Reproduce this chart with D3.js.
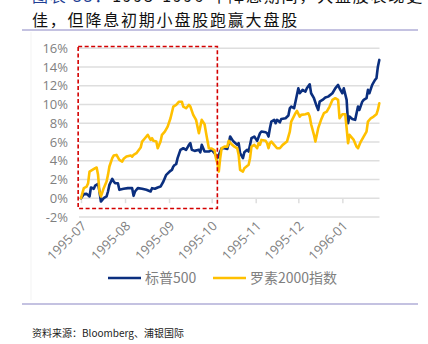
<!DOCTYPE html>
<html>
<head>
<meta charset="utf-8">
<script src="https://cdn.jsdelivr.net/npm/d3@7/dist/d3.min.js"></script>
<style>
  html, body { margin: 0; padding: 0; background: #fff; }
  svg { display: block; }
</style>
</head>
<body>
<svg id="chart" width="428" height="344"></svg>
<script>
// S&P 500 cumulative return (%) since early July 1995
const spDates = [
  "1995-07-01","1995-07-03","1995-07-05","1995-07-07","1995-07-08","1995-07-10","1995-07-11","1995-07-13",
  "1995-07-14","1995-07-15","1995-07-17","1995-07-19","1995-07-20","1995-07-21","1995-07-23","1995-07-24",
  "1995-07-25","1995-07-27","1995-07-28","1995-07-31","1995-08-03","1995-08-06","1995-08-07","1995-08-08",
  "1995-08-10","1995-08-13","1995-08-16","1995-08-19","1995-08-20","1995-08-22","1995-08-24","1995-08-26",
  "1995-08-28","1995-08-30","1995-09-02","1995-09-03","1995-09-04","1995-09-05","1995-09-06","1995-09-07",
  "1995-09-09","1995-09-11","1995-09-13","1995-09-15","1995-09-16","1995-09-17","1995-09-19","1995-09-22",
  "1995-09-23","1995-09-24","1995-09-26","1995-09-29","1995-10-01","1995-10-03","1995-10-05","1995-10-06",
  "1995-10-08","1995-10-10","1995-10-12","1995-10-13","1995-10-14","1995-10-16","1995-10-17","1995-10-19",
  "1995-10-20","1995-10-21","1995-10-23","1995-10-24","1995-10-26","1995-10-27","1995-10-29","1995-10-31",
  "1995-11-02","1995-11-04","1995-11-05","1995-11-08","1995-11-09","1995-11-10","1995-11-11","1995-11-12",
  "1995-11-14","1995-11-15","1995-11-16","1995-11-18","1995-11-19","1995-11-22","1995-11-24","1995-11-25",
  "1995-11-26","1995-11-28","1995-11-29","1995-12-01","1995-12-02","1995-12-04","1995-12-06","1995-12-07",
  "1995-12-09","1995-12-10","1995-12-12","1995-12-14","1995-12-15","1995-12-16","1995-12-18","1995-12-20",
  "1995-12-22","1995-12-25","1995-12-27","1995-12-29","1995-12-30","1996-01-01","1996-01-02","1996-01-04",
  "1996-01-05","1996-01-06","1996-01-08","1996-01-10","1996-01-12","1996-01-13","1996-01-15","1996-01-16",
  "1996-01-18","1996-01-19","1996-01-20","1996-01-22","1996-01-24","1996-01-25","1996-01-26","1996-01-27"
];
const spValues = [
  0.0, 0.43, 0.46, 0.18, 1.14, 1.0, 1.35, 1.53,
  0.71, -0.36, 0.0, 0.18, 0.71, 1.42, 2.06, 1.78,
  1.6, 1.6, 0.89, 1.0, 1.07, 1.07, 0.25, 0.71,
  1.07, 1.0, 0.89, 0.71, 1.07, 1.0, 1.14, 1.24,
  1.78, 2.49, 2.92, 3.02, 3.38, 3.56, 3.63, 4.27,
  5.16, 5.33, 5.16, 5.69, 5.87, 5.16, 5.05, 5.16,
  4.9, 5.69, 4.98, 4.98, 5.16, 4.8, 4.27, 4.62,
  5.33, 5.33, 5.26, 5.87, 6.58, 6.12, 5.97, 5.69,
  5.87, 4.8, 4.27, 4.9, 5.16, 4.98, 6.4, 6.58,
  6.12, 6.93, 7.11, 7.04, 6.93, 6.58, 7.47, 8.18,
  8.36, 8.0, 8.36, 8.1, 8.46, 8.53, 8.82, 9.6,
  9.78, 9.6, 10.3, 11.73, 11.2, 11.56, 11.38, 11.73,
  12.16, 11.2, 10.67, 9.78, 9.42, 10.3, 10.49, 10.74,
  10.84, 11.2, 11.73, 12.09, 11.73, 11.2, 11.73, 10.49,
  8.0, 8.71, 8.46, 8.36, 9.78, 9.42, 10.3, 10.49,
  10.67, 11.56, 11.2, 12.09, 12.62, 12.8, 14.04, 14.76
];

// Russell 2000 cumulative return (%) over the same window
const r2kDates = [
  "1995-07-01","1995-07-03","1995-07-05","1995-07-06","1995-07-07","1995-07-09","1995-07-11","1995-07-12",
  "1995-07-13","1995-07-14","1995-07-15","1995-07-17","1995-07-19","1995-07-20","1995-07-21","1995-07-23",
  "1995-07-24","1995-07-26","1995-07-28","1995-07-30","1995-07-31","1995-08-02","1995-08-05","1995-08-06",
  "1995-08-07","1995-08-09","1995-08-12","1995-08-13","1995-08-15","1995-08-17","1995-08-19","1995-08-20",
  "1995-08-21","1995-08-23","1995-08-24","1995-08-26","1995-08-27","1995-08-29","1995-08-31","1995-09-02",
  "1995-09-04","1995-09-06","1995-09-08","1995-09-10","1995-09-11","1995-09-13","1995-09-15","1995-09-16",
  "1995-09-18","1995-09-20","1995-09-22","1995-09-24","1995-09-26","1995-09-27","1995-09-29","1995-10-01",
  "1995-10-03","1995-10-04","1995-10-05","1995-10-06","1995-10-07","1995-10-08","1995-10-10","1995-10-12",
  "1995-10-13","1995-10-15","1995-10-17","1995-10-19","1995-10-20","1995-10-21","1995-10-23","1995-10-24",
  "1995-10-27","1995-10-28","1995-10-29","1995-10-31","1995-11-02","1995-11-03","1995-11-04","1995-11-05",
  "1995-11-08","1995-11-09","1995-11-10","1995-11-11","1995-11-12","1995-11-14","1995-11-16","1995-11-18",
  "1995-11-20","1995-11-23","1995-11-25","1995-11-26","1995-11-29","1995-11-30","1995-12-02","1995-12-03",
  "1995-12-06","1995-12-08","1995-12-09","1995-12-10","1995-12-12","1995-12-13","1995-12-15","1995-12-17",
  "1995-12-19","1995-12-21","1995-12-23","1995-12-25","1995-12-27","1995-12-29","1995-12-30","1996-01-01",
  "1996-01-03","1996-01-04","1996-01-05","1996-01-06","1996-01-09","1996-01-11","1996-01-12","1996-01-14",
  "1996-01-16","1996-01-18","1996-01-19","1996-01-21","1996-01-23","1996-01-25","1996-01-26","1996-01-27"
];
const r2kValues = [
  0.0, 1.07, 1.24, 1.6, 2.84, 3.02, 3.2, 3.27,
  2.49, 0.71, 0.18, 1.07, 1.78, 2.49, 3.38, 4.27,
  4.55, 4.62, 4.09, 3.91, 4.2, 4.44, 4.55, 4.44,
  4.62, 4.8, 5.4, 6.04, 6.4, 6.76, 6.22, 6.4,
  6.12, 6.04, 5.33, 6.04, 6.76, 7.11, 7.64, 8.53,
  9.78, 9.96, 10.3, 10.3, 9.78, 9.6, 9.96, 9.78,
  8.9, 8.36, 6.93, 8.36, 7.9, 7.0, 5.33, 5.3,
  5.1, 4.27, 3.73, 2.84, 4.27, 5.33, 5.5, 5.5,
  6.12, 5.76, 5.5, 5.33, 4.62, 3.02, 2.84, 3.2,
  3.56, 4.27, 5.5, 5.69, 5.33, 5.87, 5.69, 6.22,
  6.12, 5.87, 5.33, 5.87, 6.04, 5.69, 5.33, 5.33,
  5.69, 6.04, 7.11, 8.18, 9.07, 9.32, 8.71, 8.89,
  8.96, 9.07, 8.71, 7.89, 6.76, 6.04, 7.47, 8.36,
  9.07, 9.24, 9.78, 10.49, 10.67, 10.49, 8.53, 8.96,
  8.96, 7.47, 5.87, 6.76, 6.22, 5.5, 5.33, 6.04,
  6.58, 7.11, 8.18, 8.53, 8.71, 8.96, 9.42, 10.13
];

const seriesNames = ["标普500", "罗素2000指数"];
const yTicks = [-2, 0, 2, 4, 6, 8, 10, 12, 14, 16];
const xTickMonths = ["1995-07", "1995-08", "1995-09", "1995-10", "1995-11", "1995-12", "1996-01"];
// Early rate-cut window that gets outlined (dates and % bounds)
const highlightDates = ["1995-06-29", "1995-10-05"];
const highlightRange = [-1.1, 16.2];

const titleLines = [["图表 33：", "1995-1996 年降息期间，大盘股表现更"], ["", "佳，但降息初期小盘股跑赢大盘股"]];
const sourceText = "资料来源：Bloomberg、浦银国际";

const COLORS = { sp: "#0b2f7f", r2k: "#ffc000", grid: "#dedede", axisText: "#7f7f7f", box: "#d40000" };
const CJK = "'Noto Sans CJK SC', 'Noto Sans', sans-serif";
const NUM = "'Open Sans', 'Noto Sans', sans-serif";

const parse = d3.timeParse("%Y-%m-%d");
const parseMonth = d3.timeParse("%Y-%m");
const svg = d3.select("#chart");

const x = d3.scaleTime()
  .domain([parse("1995-07-01"), parse("1996-01-27")])
  .range([81, 379.3]);
const y = d3.scaleLinear().domain([-2, 16]).range([216.9, 48.3]);

// Faint outer frame of the chart object
svg.append("line").attr("x1", 31).attr("x2", 31).attr("y1", 32).attr("y2", 300)
  .attr("stroke", "#f3f3f3").attr("stroke-width", 1);

// Title (the first line runs off the top edge)
const title = svg.append("g");
titleLines.forEach((parts, i) => {
  const t = title.append("text")
    .attr("x", 32).attr("y", i === 0 ? 2 : 26)
    .attr("font-family", CJK).attr("font-size", 16).attr("font-weight", 400)
    .attr("letter-spacing", 1.8);
  if (parts[0]) t.append("tspan").attr("fill", "#1f3f94").text(parts[0]);
  t.append("tspan").attr("fill", "#111").text(parts[1]);
});

// Separators above and below the chart
[30, 304].forEach(yy => {
  svg.append("line").attr("x1", 22).attr("x2", 418).attr("y1", yy).attr("y2", yy)
    .attr("stroke", "#8a86c4").attr("stroke-width", 1.2);
});

// Horizontal gridlines
svg.append("g").selectAll("line").data(yTicks).join("line")
  .attr("x1", 79).attr("x2", 379.5)
  .attr("y1", d => y(d)).attr("y2", d => y(d))
  .attr("stroke", COLORS.grid).attr("stroke-width", 1.5);

// Y axis labels
const yAxis = d3.axisLeft(y).tickValues(yTicks).tickSize(0).tickPadding(0)
  .tickFormat(d => d + "%");
svg.append("g").attr("transform", "translate(68,0)").call(yAxis)
  .call(g => g.select(".domain").remove())
  .call(g => g.selectAll("text")
    .attr("font-family", NUM).attr("font-size", 13).attr("fill", COLORS.axisText));

// X axis: tick marks hang from the 0% line, labels sit below the -2% line
const monthDates = xTickMonths.map(parseMonth);
const xAxis = d3.axisBottom(x).tickValues(monthDates).tickSize(5).tickFormat("");
svg.append("g").attr("transform", `translate(0,${y(0)})`).call(xAxis)
  .call(g => g.select(".domain").remove())
  .call(g => g.selectAll(".tick line").attr("stroke", COLORS.grid).attr("stroke-width", 1.5));

svg.append("g").selectAll("text").data(monthDates).join("text")
  .attr("transform", d => `translate(${x(d) + 3},${y(-2) + 6.5}) rotate(-45)`)
  .attr("text-anchor", "end")
  .attr("dy", "0.35em")
  .attr("font-family", NUM).attr("font-size", 13).attr("fill", COLORS.axisText)
  .text(d3.timeFormat("%Y-%m"));

// Series lines
const line = d3.line().x(d => x(d.date)).y(d => y(d.value)).curve(d3.curveLinear);
const spData = spDates.map((d, i) => ({ date: parse(d), value: spValues[i] }));
const r2kData = r2kDates.map((d, i) => ({ date: parse(d), value: r2kValues[i] }));

svg.append("path").datum(spData).attr("d", line)
  .attr("fill", "none").attr("stroke", COLORS.sp).attr("stroke-width", 2.6)
  .attr("stroke-linejoin", "round").attr("stroke-linecap", "round");
svg.append("path").datum(r2kData).attr("d", line)
  .attr("fill", "none").attr("stroke", COLORS.r2k).attr("stroke-width", 2.6)
  .attr("stroke-linejoin", "round").attr("stroke-linecap", "round");

// Dashed outline of the early rate-cut period
const hx0 = x(parse(highlightDates[0])), hx1 = x(parse(highlightDates[1]));
const hy0 = y(highlightRange[1]), hy1 = y(highlightRange[0]);
svg.append("rect")
  .attr("x", hx0).attr("y", hy0).attr("width", hx1 - hx0).attr("height", hy1 - hy0)
  .attr("fill", "none").attr("stroke", COLORS.box).attr("stroke-width", 1.6)
  .attr("stroke-dasharray", "4,2.5");

// Legend
const legend = svg.append("g").attr("transform", "translate(0,278)");
const legendItems = [
  { name: seriesNames[0], color: COLORS.sp, x: 108 },
  { name: seriesNames[1], color: COLORS.r2k, x: 213 }
];
legendItems.forEach(it => {
  legend.append("line").attr("x1", it.x).attr("x2", it.x + 33).attr("y1", 0).attr("y2", 0)
    .attr("stroke", it.color).attr("stroke-width", 2.6);
  legend.append("text").attr("x", it.x + 37).attr("y", 0).attr("dy", "0.36em")
    .attr("font-family", CJK).attr("font-size", 14).attr("fill", COLORS.axisText)
    .text(it.name);
});

// Source note
svg.append("text").attr("x", 32).attr("y", 337)
  .attr("font-family", CJK).attr("font-size", 10).attr("fill", "#222")
  .text(sourceText);
</script>
</body>
</html>
